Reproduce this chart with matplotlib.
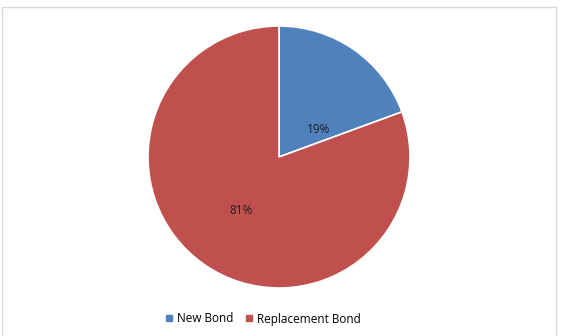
import matplotlib.pyplot as plt
from matplotlib.patches import Rectangle
from matplotlib.lines import Line2D

labels = ['New Bond', 'Replacement Bond']
shares = [19.4, 80.6]
colors = ['#4F81BD', '#C0504D']
# label spots as fraction of radius (x, y)
label_pos = [(0.30, 0.21), (-0.29, -0.41)]

plt.rcParams['font.family'] = ['Open Sans', 'DejaVu Sans']

W, H = 561, 336
fig = plt.figure(figsize=(W / 100, H / 100), dpi=100)

# light chart border
fig.patches.append(Rectangle((2 / W, -0.01), (556 - 2) / W, (H - 7) / H + 0.01,
                             transform=fig.transFigure, fill=False,
                             edgecolor='#D9D9D9', linewidth=1))

cx, cy, r = 279, 157, 131
ax = fig.add_axes([(cx - r) / W, (H - cy - r) / H, 2 * r / W, 2 * r / H])
wedges, _ = ax.pie(shares, colors=colors, startangle=90, counterclock=False,
                   radius=1, wedgeprops=dict(edgecolor='white', linewidth=1.2))
for (lx, ly), v in zip(label_pos, shares):
    ax.text(lx, ly, f'{v:.0f}%', ha='center', va='center', fontsize=8.5,
            color='#1F1F1F')
ax.set_xlim(-1, 1)
ax.set_ylim(-1, 1)
ax.set_aspect('equal')
ax.axis('off')

handles = [Line2D([], [], marker='s', linestyle='none', markersize=4,
                  markerfacecolor=c, markeredgecolor=c) for c in colors]
fig.legend(handles, labels, loc='center', bbox_to_anchor=(0.468, (H - 319) / H),
           ncol=2, frameon=False, fontsize=8.5, handletextpad=0.2,
           columnspacing=1.0, handlelength=0.8)

fig.savefig('out.png', dpi=100, facecolor='white')
